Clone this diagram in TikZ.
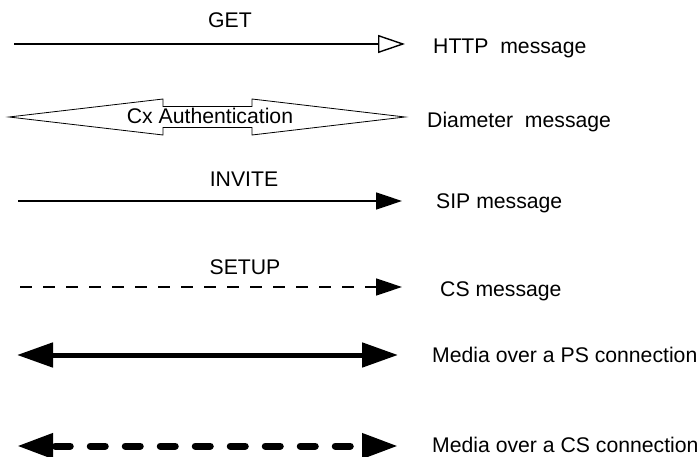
\documentclass[tikz,border=0pt]{standalone}
\usepackage{fontspec}
\setmainfont{Liberation Sans}
\usetikzlibrary{arrows.meta}
\begin{document}
\begin{tikzpicture}[x=1pt,y=-1pt,
  lbl/.style={anchor=base west,inner sep=0pt,font=\fontsize{21.2}{25}\selectfont},
  captext/.style={anchor=base,inner sep=0pt,font=\fontsize{21.2}{25}\selectfont},
  thin msg/.style={line width=1.4pt},
  filltip/.style={-{Triangle[length=26pt,width=17pt]}},
  bigtip/.style={{Triangle[length=36pt,width=24pt]}-{Triangle[length=36pt,width=24pt]}}]
\useasboundingbox (0,0) rectangle (699,457);
% Row 1: HTTP
\coordinate (h1) at (14,44);
\coordinate (h2) at (405,44);
\draw[thin msg,-{Triangle[open,length=27pt,width=18pt,line width=1.4pt]}] (h1) -- (h2);
\node[captext] (get) at (230,28) {GET};
\node[lbl] (httpl) at (433,54) {HTTP\ \ message};
% Row 2: Diameter
\draw[line width=0.8pt,fill=white] (9,117) -- (163,99) -- (163,106.5) -- (252,106.5) -- (252,99) -- (405,117) -- (252,135) -- (252,127.5) -- (163,127.5) -- (163,135) -- cycle;
\node[captext] (cx) at (210,124) {Cx Authentication};
\node[lbl] (diaml) at (427,128) {Diameter\ \ message};
% Row 3: SIP
\coordinate (s1) at (18,201);
\coordinate (s2) at (402,201);
\draw[thin msg,filltip] (s1) -- (s2);
\node[captext] (inv) at (244,187) {INVITE};
\node[lbl] (sipl) at (436,209) {SIP message};
% Row 4: CS
\coordinate (c1) at (20,287);
\coordinate (c2) at (402,287);
\draw[thin msg,filltip,dash pattern=on 12pt off 11pt] (c1) -- (c2);
\node[captext] (setup) at (245,275) {SETUP};
\node[lbl] (csl) at (440,297) {CS message};
% Row 5: PS media
\coordinate (p1) at (17,355);
\coordinate (p2) at (398,355);
\draw[line width=5pt,bigtip] (p1) -- (p2);
\node[lbl] (psl) at (432,362) {Media over a PS connection};
% Row 6: CS media
\coordinate (m1) at (17,446);
\coordinate (m2) at (398,446);
\draw[line width=7pt,bigtip,line cap=round,dash pattern=on 15pt off 20pt,dash phase=-4pt] (m1) -- (m2);
\node[lbl] (csml) at (432,452) {Media over a CS connection};
\end{tikzpicture}
\end{document}
